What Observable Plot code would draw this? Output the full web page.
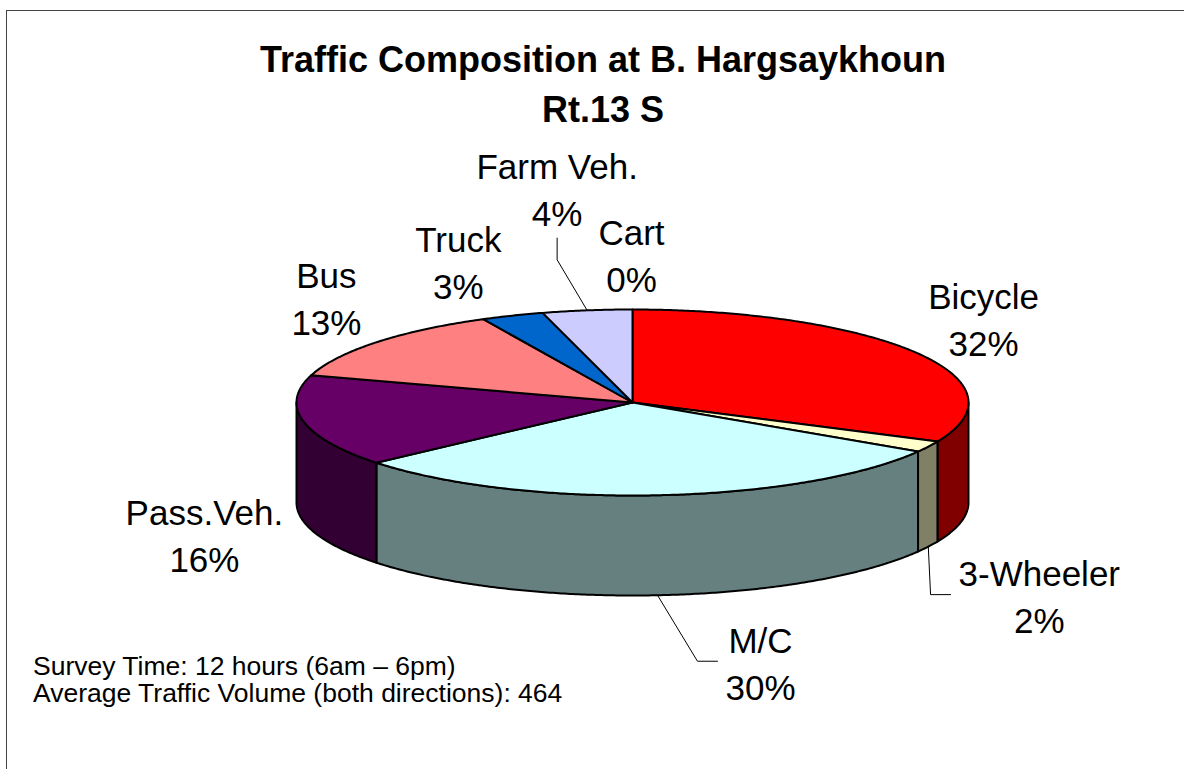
<!DOCTYPE html>
<html><head><meta charset="utf-8">
<script src="https://cdn.jsdelivr.net/npm/d3@7"></script>
<script src="https://cdn.jsdelivr.net/npm/@observablehq/plot@0.6"></script>
<style>
html,body{margin:0;padding:0;background:#fff;}
#wrap{position:relative;width:1184px;height:769px;overflow:hidden;font-family:"Liberation Sans",Arial,sans-serif;color:#000;}
#chart{position:absolute;left:0;top:0;}
#frame{position:absolute;left:6px;top:10px;width:2000px;height:2000px;border-top:1.5px solid #444;border-left:1.5px solid #444;}
#title{position:absolute;left:0;top:34.5px;width:1206px;text-align:center;font-weight:bold;font-size:36px;line-height:50px;margin:0;}
#caption{position:absolute;left:33px;top:653px;font-size:26.5px;line-height:27px;white-space:nowrap;}
</style></head>
<body>
<div id="wrap">
  <div id="chart"></div>
  <div id="frame"></div>
  <div id="title">Traffic Composition at B. Hargsaykhoun<br>Rt.13 S</div>
  <div id="caption">Survey Time: 12 hours (6am – 6pm)<br>Average Traffic Volume (both directions): 464</div>
</div>
<script>
// ---- data ----
const categories = ["Bicycle", "3-Wheeler", "M/C", "Pass.Veh.", "Bus", "Truck", "Farm Veh.", "Cart"];
const counts = [148, 9, 139, 74, 60, 14, 20, 0];
const topColors = ["#FF0000", "#FFFFCC", "#CCFFFF", "#660066", "#FF8080", "#0066CC", "#CCCCFF", "#000080"];
const sideColors = ["#800000", "#808066", "#668080", "#330033", "#804040", "#003366", "#666680", "#000040"];

// ---- layout ----
const layout = {cx: 632, cy: 402, rx: 336, ry: 93, depth: 100, fontSize: 35};
// label offsets (px) from slice edge at mid-angle (labels dragged as in the original)
const labelOffsets = [[68, -35], [111, 48], [103, 66], [-99, 12], [-50, -46], [-54, -55], [-30, -123], [-1, -56]];
const leaderSide = ["none", "left", "left", "none", "none", "none", "bottom", "none"];

const total = d3.sum(counts);
const D = layout.depth / layout.ry;
const fx = t => Math.sin(t), fy = t => -Math.cos(t);
function arc(a, b) {
  const n = Math.max(2, Math.ceil(Math.abs(b - a) / (Math.PI / 360)));
  return d3.range(n + 1).map(k => a + (b - a) * k / n);
}
let acc = 0;
const slices = categories.map((name, i) => {
  const a0 = acc / total * 2 * Math.PI; acc += counts[i];
  const a1 = acc / total * 2 * Math.PI;
  return {name, i, a0, a1, mid: (a0 + a1) / 2, pct: Math.round(counts[i] / total * 100)};
});

const walls = [];
slices.forEach(s => {
  const a = Math.max(s.a0, Math.PI / 2), b = Math.min(s.a1, 3 * Math.PI / 2);
  if (a < b) {
    const pts = [];
    arc(a, b).forEach(t => pts.push({x: fx(t), y: fy(t)}));
    arc(b, a).forEach(t => pts.push({x: fx(t), y: fy(t) + D}));
    pts.push(pts[0]);
    pts.forEach(p => walls.push({id: s.name, fill: sideColors[s.i], ...p}));
  }
});
const tops = [];
slices.forEach(s => {
  if (s.a1 <= s.a0) return;
  const pts = [{x: 0, y: 0}];
  arc(s.a0, s.a1).forEach(t => pts.push({x: fx(t), y: fy(t)}));
  pts.push({x: 0, y: 0});
  pts.forEach(p => tops.push({id: s.name, fill: topColors[s.i], ...p}));
});

const fs = layout.fontSize;
const ctx = document.createElement("canvas").getContext("2d");
ctx.font = `${fs}px "Liberation Sans", Arial, sans-serif`;
const labels = slices.map(s => {
  const front = Math.cos(s.mid) < 0;
  const ex = fx(s.mid), ey = fy(s.mid) + (front ? D : 0);
  const [ox, oy] = labelOffsets[s.i];
  const lines = [s.name, s.pct + "%"];
  const w = Math.max(...lines.map(l => ctx.measureText(l).width));
  return {id: s.name, ex, ey, x: ex + ox / layout.rx, y: ey + oy / layout.ry, w, text: lines.join("\n"), side: leaderSide[s.i]};
});
const leaders = [];
labels.forEach(L => {
  if (L.side === "left") {
    const xl = L.x - L.w / 2 / layout.rx;
    [{x: L.ex, y: L.ey}, {x: xl - 28 / layout.rx, y: L.y}, {x: xl - 8 / layout.rx, y: L.y}]
      .forEach(p => leaders.push({id: L.id, ...p}));
  } else if (L.side === "bottom") {
    [{x: L.ex, y: L.ey}, {x: L.x, y: L.y + 2.07 * fs / layout.ry}, {x: L.x, y: L.y + 1.45 * fs / layout.ry}]
      .forEach(p => leaders.push({id: L.id, ...p}));
  }
});

const chart = Plot.plot({
  width: 1184, height: 769, margin: 0,
  x: {domain: [-1, 1], range: [layout.cx - layout.rx, layout.cx + layout.rx], axis: null},
  y: {domain: [-1, 1], range: [layout.cy - layout.ry, layout.cy + layout.ry], axis: null},
  color: {type: "identity"},
  style: {fontFamily: '"Liberation Sans", Arial, sans-serif', background: "transparent", overflow: "visible"},
  marks: [
    Plot.line(walls, {x: "x", y: "y", z: "id", fill: "fill", stroke: "#000", strokeWidth: 2, strokeLinejoin: "round"}),
    Plot.line(tops, {x: "x", y: "y", z: "id", fill: "fill", stroke: "#000", strokeWidth: 2, strokeLinejoin: "round"}),
    Plot.line(leaders, {x: "x", y: "y", z: "id", stroke: "#000", strokeWidth: 1}),
    Plot.text(labels, {x: "x", y: "y", text: "text", fontSize: fs, lineHeight: 1.34, fill: "#000", textAnchor: "middle", lineAnchor: "middle"})
  ]
});
document.getElementById("chart").appendChild(chart);
</script>
</body></html>
